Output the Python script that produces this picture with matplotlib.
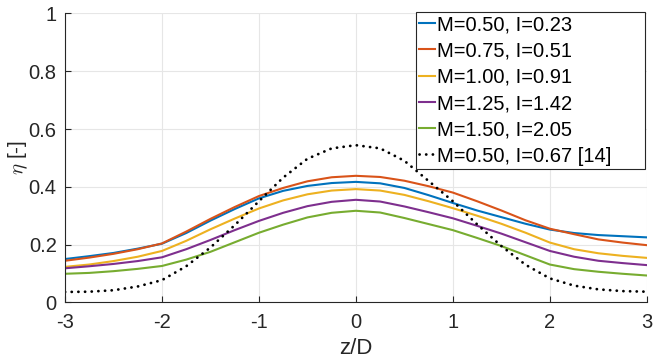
import matplotlib
matplotlib.use('Agg')
import matplotlib.pyplot as plt
import numpy as np

# z/D positions (read every 0.25)
z = [-3.0, -2.75, -2.5, -2.25, -2.0, -1.75, -1.5, -1.25, -1.0, -0.75, -0.5, -0.25,
     0.0, 0.25, 0.5, 0.75, 1.0, 1.25, 1.5, 1.75, 2.0, 2.25, 2.5, 2.75, 3.0]

eta_m050 = [0.150, 0.160, 0.171, 0.186, 0.203, 0.240, 0.283, 0.323, 0.360, 0.386, 0.403, 0.413,
            0.417, 0.412, 0.396, 0.371, 0.344, 0.318, 0.295, 0.272, 0.252, 0.240, 0.233, 0.229, 0.225]
eta_m075 = [0.144, 0.155, 0.168, 0.184, 0.204, 0.245, 0.289, 0.330, 0.368, 0.396, 0.419, 0.433,
            0.438, 0.434, 0.421, 0.402, 0.380, 0.350, 0.318, 0.284, 0.255, 0.236, 0.218, 0.207, 0.198]
eta_m100 = [0.123, 0.131, 0.143, 0.158, 0.178, 0.213, 0.253, 0.290, 0.325, 0.353, 0.374, 0.387,
            0.392, 0.387, 0.372, 0.350, 0.326, 0.300, 0.272, 0.241, 0.207, 0.184, 0.170, 0.161, 0.154]
eta_m125 = [0.118, 0.125, 0.133, 0.143, 0.156, 0.184, 0.216, 0.250, 0.282, 0.310, 0.333, 0.348,
            0.355, 0.349, 0.332, 0.312, 0.291, 0.265, 0.238, 0.208, 0.178, 0.158, 0.144, 0.136, 0.129]
eta_m150 = [0.099, 0.102, 0.108, 0.116, 0.126, 0.148, 0.175, 0.208, 0.241, 0.269, 0.294, 0.310,
            0.317, 0.311, 0.292, 0.271, 0.250, 0.223, 0.195, 0.163, 0.131, 0.115, 0.106, 0.099, 0.093]
eta_ref = [0.036, 0.037, 0.042, 0.055, 0.077, 0.125, 0.190, 0.267, 0.350, 0.432, 0.497, 0.533,
           0.544, 0.533, 0.490, 0.420, 0.350, 0.270, 0.195, 0.130, 0.083, 0.058, 0.045, 0.039, 0.037]

labels = ['M=0.50, I=0.23', 'M=0.75, I=0.51', 'M=1.00, I=0.91',
          'M=1.25, I=1.42', 'M=1.50, I=2.05', 'M=0.50, I=0.67 [14]']
colors = ['#0072BD', '#D95319', '#EDB120', '#7E2F8E', '#77AC30']

plt.rcParams['font.family'] = ['Liberation Sans', 'DejaVu Sans']
plt.rcParams['mathtext.fontset'] = 'cm'
plt.rcParams['axes.unicode_minus'] = False

fig = plt.figure(figsize=(6.54, 3.63), dpi=100)
ax = fig.add_axes([0.0994, 0.167, 0.8896, 0.796])

series = [eta_m050, eta_m075, eta_m100, eta_m125, eta_m150]
for vals, col, lab in zip(series, colors, labels):
    ax.plot(z, vals, color=col, lw=1.5, label=lab)
ax.plot(z, eta_ref, color='black', lw=2.0, linestyle=(0, (0.05, 2.35)),
        dash_capstyle='round', label=labels[5])

ax.set_xlim(-3, 3)
ax.set_ylim(0, 1)
ax.set_xticks(np.arange(-3, 4, 1))
ax.set_yticks([0, 0.2, 0.4, 0.6, 0.8, 1])
ax.set_yticklabels(['0', '0.2', '0.4', '0.6', '0.8', '1'])
ax.grid(True, color='#e6e6e6', lw=0.8)
ax.set_axisbelow(True)
for s in ['top', 'right']:
    ax.spines[s].set_visible(False)
for s in ['left', 'bottom']:
    ax.spines[s].set_color('#262626')
    ax.spines[s].set_linewidth(0.8)
ax.tick_params(direction='in', length=4, labelsize=14.5, colors='#262626')
ax.tick_params(axis='x', pad=8)
ax.tick_params(axis='y', pad=6)

ax.set_xlabel('z/D', fontsize=16, color='#262626', labelpad=4)
ax.set_ylabel(r'$\eta$ [-]', fontsize=15, color='#262626', labelpad=-1)

# MATLAB-like legend box: wider than its text, hugging the top right corner
leg = ax.legend(loc='upper left', fontsize=14.5, frameon=True, fancybox=False,
                edgecolor='#262626', framealpha=1, borderaxespad=0.0,
                handlelength=0.8, handletextpad=0.1, labelspacing=0.36,
                borderpad=0.15, mode='expand',
                bbox_to_anchor=(0.6026, 0.0, 0.395, 1.004))
leg.get_frame().set_linewidth(0.8)

fig.savefig('out.png', dpi=100)
